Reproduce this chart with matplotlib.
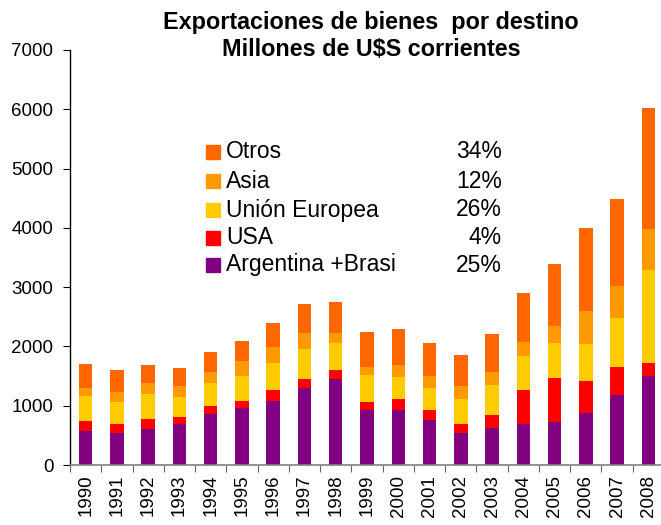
import matplotlib
matplotlib.use("Agg")
import matplotlib.pyplot as plt
from matplotlib.patches import Rectangle

plt.rcParams['font.family'] = ['Liberation Sans', 'DejaVu Sans']

years = [str(y) for y in range(1990, 2009)]
argentina_brasil = [574, 541, 608, 698, 867, 968, 1081, 1306, 1453, 929, 929, 760, 541, 625, 693, 726, 878, 1182, 1503]
usa = [169, 157, 169, 113, 130, 113, 186, 147, 152, 135, 186, 169, 152, 220, 574, 744, 541, 473, 220]
union_europea = [423, 366, 422, 338, 388, 422, 456, 506, 456, 456, 371, 372, 422, 506, 574, 591, 625, 828, 1571]
asia = [140, 169, 186, 185, 186, 254, 270, 271, 169, 135, 203, 202, 219, 220, 237, 287, 557, 541, 692]
otros = [404, 372, 304, 305, 338, 338, 406, 490, 523, 592, 608, 558, 524, 642, 827, 1047, 1402, 1469, 2044]

series_names = ['Argentina +Brasi', 'USA', 'Unión Europea', 'Asia', 'Otros']
series_colors = ['#800080', '#FF0000', '#FFCC00', '#FF9900', '#FF6600']
shares = ['25%', '4%', '26%', '12%', '34%']

W, H = 661, 525
fig = plt.figure(figsize=(W / 100, H / 100), dpi=100)
ax = fig.add_axes([70 / W, 1 - 465 / H, 594 / W, 415 / H])

x = list(range(len(years)))
bottom = [0] * len(years)
for vals, col in zip([argentina_brasil, usa, union_europea, asia, otros], series_colors):
    ax.bar(x, vals, width=0.43, bottom=bottom, color=col, linewidth=0, zorder=2)
    bottom = [b + v for b, v in zip(bottom, vals)]

ax.set_xlim(-0.5, len(years) - 0.5)
ax.set_ylim(0, 7000)
ax.set_yticks(range(0, 7001, 1000))
# ticks sit between the years, labels under each bar
ax.set_xticks([i - 0.5 for i in range(len(years) + 1)])
ax.set_xticklabels([])
ax.set_xticks(x, minor=True)
ax.set_xticklabels(years, minor=True, rotation=90, fontsize=13.5)
ax.tick_params(axis='x', which='minor', length=0, pad=7)
ax.tick_params(axis='x', which='major', length=5, direction='out', color='#666666')
ax.tick_params(axis='y', labelsize=13.5, length=5, direction='out', pad=7)
for s in ['top', 'right']:
    ax.spines[s].set_visible(False)
ax.spines['bottom'].set_color('#808080')
ax.spines['bottom'].set_linewidth(1.2)
ax.spines['left'].set_linewidth(1.0)

fig.text(371 / W, 1 - 22 / H, 'Exportaciones de bienes  por destino', ha='center', va='center',
         fontsize=16.8, fontweight='bold')
fig.text(371 / W, 1 - 50 / H, 'Millones de U$S corrientes', ha='center', va='center',
         fontsize=16.8, fontweight='bold')

# legend drawn by hand: Otros on top
rows_y = [265, 238, 210, 181, 152]
for name, col, share, yy in zip(series_names, series_colors, shares, rows_y):
    fig.patches.append(Rectangle((206 / W, 1 - (yy + 7) / H), 14 / W, 14 / H,
                                 transform=fig.transFigure, color=col))
    fig.text(226 / W, 1 - yy / H, name, ha='left', va='center', fontsize=16.5)
    fig.text(502 / W, 1 - yy / H, share, ha='right', va='center', fontsize=16.5)

fig.savefig('out.png', dpi=100)
